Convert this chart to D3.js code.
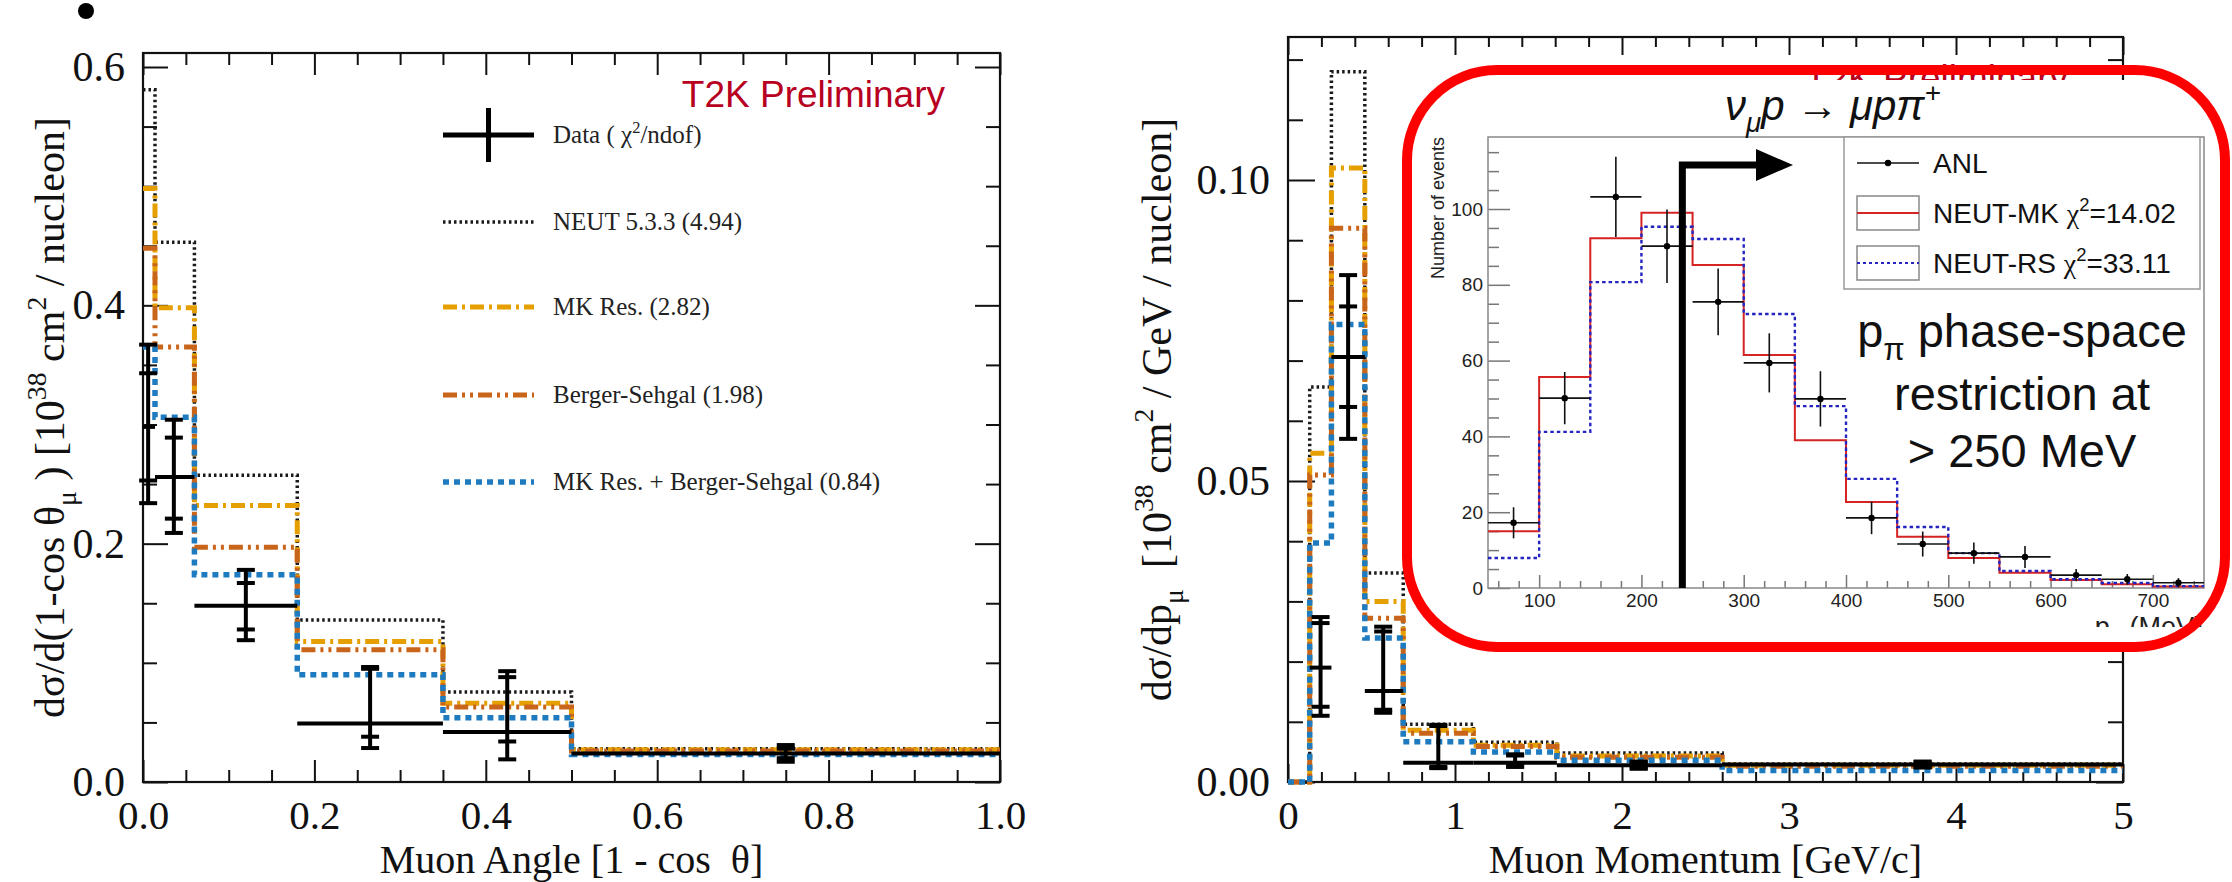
<!DOCTYPE html>
<html><head><meta charset="utf-8">
<script src="https://cdn.jsdelivr.net/npm/d3@7"></script>
<style>body{margin:0;background:#fff}svg{display:block}</style>
</head><body>
<svg id="c" width="2232" height="882"></svg>
<script>
// ===== Left panel: muon angle =====
const angleEdges=[0,0.014,0.06,0.18,0.35,0.5,1.0];
const angleNEUT=[0.581,0.453,0.2575,0.136,0.0755,0.028];
const angleMK=[0.498,0.398,0.232,0.118,0.066,0.027];
const angleBS=[0.448,0.365,0.197,0.111,0.063,0.026];
const angleMKBS=[0.365,0.306,0.174,0.090,0.054,0.023];
const angleDataX=[0.006,0.036,0.12,0.265,0.425,0.75];
const angleDataY=[0.298,0.256,0.148,0.049,0.042,0.024];
const angleInnerLo=[0.253,0.221,0.128,0.038,0.034,0.020];
const angleInnerHi=[0.343,0.289,0.167,0.095,0.088,0.028];
const angleOuterLo=[0.234,0.209,0.119,0.0285,0.019,0.017];
const angleOuterHi=[0.367,0.304,0.178,0.0965,0.093,0.031];
const angleXTicks=[0,0.2,0.4,0.6,0.8,1.0];
const angleXMinor=[0.05,0.1,0.15,0.25,0.3,0.35,0.45,0.5,0.55,0.65,0.7,0.75,0.85,0.9,0.95];
const angleYTicks=[0,0.2,0.4,0.6];
const angleYMinor=[0.05,0.1,0.15,0.25,0.3,0.35,0.45,0.5,0.55];
// ===== Right panel: muon momentum =====
const momEdges=[0,0.13,0.26,0.46,0.69,1.11,1.61,2.6,5.0];
const momNEUT=[0,0.0656,0.118,0.0347,0.0096,0.0066,0.0048,0.0030];
const momMK=[0,0.0546,0.102,0.030,0.0086,0.0061,0.0043,0.0028];
const momBS=[0,0.051,0.092,0.0272,0.0081,0.0059,0.0041,0.0026];
const momMKBS=[0,0.0397,0.076,0.0239,0.0067,0.0050,0.0036,0.0019];
const momDataX=[0.195,0.36,0.57,0.9,1.36,2.1,3.8];
const momDataY=[0.019,0.0706,0.0151,0.0032,0.0032,0.0028,0.0029];
const momInnerLo=[0.0125,0.0623,0.012,0.0025,0.0027,0.0023,0.0025];
const momInnerHi=[0.0264,0.079,0.025,0.0093,0.0044,0.0033,0.0033];
const momOuterLo=[0.011,0.057,0.0115,0.0023,0.0025,0.0022,0.0024];
const momOuterHi=[0.0274,0.0842,0.0258,0.0095,0.0046,0.0034,0.0034];
const momXTicks=[0,1,2,3,4,5];
const momXMinor=[0.2,0.4,0.6,0.8,1.2,1.4,1.6,1.8,2.2,2.4,2.6,2.8,3.2,3.4,3.6,3.8,4.2,4.4,4.6,4.8];
const momYTicks=[0,0.05,0.10];
const momYMinor=[0.01,0.02,0.03,0.04,0.06,0.07,0.08,0.09,0.11,0.12];
// ===== Inset: ANL pion momentum =====
const pionEdges=[50,100,150,200,250,300,350,400,450,500,550,600,650,700,750];
const neutMK=[15.0,55.7,92.3,99.0,85.2,61.5,39.0,22.7,13.5,7.9,4.0,2.1,1.0,0.4];
const neutRS=[7.9,41.2,80.7,95.3,92.1,72.3,48.0,28.8,16.1,9.2,4.5,2.3,1.3,0.5];
const anlX=[75,125,175,225,275,325,375,425,475,525,575,625,675,725];
const anlY=[17.2,50.1,103.2,90.2,75.5,59.4,49.9,18.5,11.6,9.2,8.2,3.4,2.3,1.4];
const anlErr=[4.1,6.9,10.6,9.7,8.8,7.8,7.3,4.3,3.3,2.8,2.9,1.6,1.4,1.2];
const insetXTicks=[100,200,300,400,500,600,700];
const insetXMinor=[60,80,120,140,160,180,220,240,260,280,320,340,360,380,420,440,460,480,520,540,560,580,620,640,660,680,720,740];
const insetYTicks=[0,20,40,60,80,100];
const insetYMinor=[5,10,15,25,30,35,45,50,55,65,70,75,85,90,95,105,110,115];
const cutArrow=240;

const modelNames=["NEUT 5.3.3 (4.94)","MK Res. (2.82)","Berger-Sehgal (1.98)","MK Res. + Berger-Sehgal (0.84)"];
const modelStyles=[
 {c:"#1a1a1a",w:3.5,d:"2.5,3"},
 {c:"#E69F00",w:5,d:"14,5,3,5"},
 {c:"#C9651A",w:5,d:"14,5,3,5,3,5"},
 {c:"#1F7BC0",w:5.5,d:"6,5"}
];

const svg=d3.select("#c");
const SERIF="'Liberation Serif','Times New Roman',serif";
const SANS="'Liberation Sans',Arial,sans-serif";

function rich(sel,parts,fs){
  let cur=0;
  parts.forEach(p=>{
    const target=p.sub?0.28*fs:(p.sup?-0.42*fs:0);
    const ts=sel.append("tspan").text(p.t).attr("dy",target-cur);
    if(p.sub||p.sup) ts.attr("font-size",fs*0.66);
    if(p.fam) ts.attr("font-family",p.fam);
    cur=target;
  });
}
function stepPath(x,y,edges,vals){
  const pts=vals.map((v,i)=>[edges[i],v]);
  pts.push([edges[edges.length-1],vals[vals.length-1]]);
  return d3.line().x(d=>x(d[0])).y(d=>y(d[1])).curve(d3.curveStepAfter)(pts);
}
function axis(g,gen,vals,len,fmt,pad,fs,fam,col){
  const a=gen.tickValues(vals).tickSizeInner(-len).tickSizeOuter(0).tickPadding(pad);
  if(fmt) a.tickFormat(fmt); else a.tickFormat(()=> "");
  g.call(a);
  g.select(".domain").remove();
  g.selectAll(".tick line").attr("stroke",col||"#111").attr("stroke-width",2);
  g.selectAll(".tick text").attr("font-family",fam).attr("font-size",fs).attr("fill",col==="#777"?"#222":"#111");
}

function panel(o){
  const x=d3.scaleLinear().domain(o.xd).range([o.x0,o.x1]);
  const y=d3.scaleLinear().domain(o.yd).range([o.y0,o.y1]);
  const g=svg.append("g");
  axis(g.append("g").attr("transform",`translate(0,${o.y0})`),d3.axisBottom(x),o.xMinor,o.xMinLen,null,0,40,SERIF);
  axis(g.append("g").attr("transform",`translate(0,${o.y0})`),d3.axisBottom(x),o.xTicks,o.xMajLen,o.xFmt,18,41,SERIF);
  axis(g.append("g").attr("transform",`translate(0,${o.top})`),d3.axisTop(x),o.xMinor,o.xMinLen,null,0,40,SERIF);
  axis(g.append("g").attr("transform",`translate(0,${o.top})`),d3.axisTop(x),o.xTicks,o.xMajLen,null,0,40,SERIF);
  axis(g.append("g").attr("transform",`translate(${o.x0},0)`),d3.axisLeft(y),o.yMinor,o.yMinLen,null,0,40,SERIF);
  axis(g.append("g").attr("transform",`translate(${o.x0},0)`),d3.axisLeft(y),o.yTicks,o.yMajLen,o.yFmt,18,42,SERIF);
  axis(g.append("g").attr("transform",`translate(${o.x1},0)`),d3.axisRight(y),o.yMinor,o.yMinLen,null,0,40,SERIF);
  axis(g.append("g").attr("transform",`translate(${o.x1},0)`),d3.axisRight(y),o.yTicks,o.yMajLen,null,0,40,SERIF);
  g.append("rect").attr("x",o.x0).attr("y",o.top).attr("width",o.x1-o.x0).attr("height",o.y0-o.top)
   .attr("fill","none").attr("stroke","#111").attr("stroke-width",2.2);
  o.models.forEach((m,i)=>{
    const s=modelStyles[i];
    g.append("path").attr("d",stepPath(x,y,o.edges,m)).attr("fill","none")
     .attr("stroke",s.c).attr("stroke-width",s.w).attr("stroke-dasharray",s.d);
  });
  const dg=g.append("g").attr("stroke","#000").attr("stroke-width",4).attr("fill","none");
  o.dx.forEach((xv,i)=>{
    const bi=o.dBin[i];
    dg.append("line").attr("x1",x(o.edges[bi])).attr("x2",x(o.edges[bi+1])).attr("y1",y(o.dy[i])).attr("y2",y(o.dy[i]));
    dg.append("line").attr("x1",x(xv)).attr("x2",x(xv)).attr("y1",y(o.oLo[i])).attr("y2",y(o.oHi[i]));
    [o.oLo[i],o.oHi[i],o.iLo[i],o.iHi[i]].forEach(v=>{
      dg.append("line").attr("x1",x(xv)-9).attr("x2",x(xv)+9).attr("y1",y(v)).attr("y2",y(v));
    });
  });
  g.append("text").attr("x",(o.x0+o.x1)/2).attr("y",873).attr("text-anchor","middle")
   .attr("font-family",SERIF).attr("font-size",40).style("white-space","pre").attr("fill","#111").text(o.xTitle);
  const yt=g.append("text").attr("transform",`translate(${o.ytX},${(o.top+o.y0)/2}) rotate(-90)`)
   .attr("text-anchor","middle").attr("font-family",SERIF).attr("font-size",42).attr("fill","#111").style("white-space","pre");
  rich(yt,o.yTitle,42);
  g.append("text").attr("x",o.t2kX).attr("y",o.t2kY).attr("text-anchor","end").attr("font-family",SANS)
   .attr("font-size",37).attr("fill","#B8001F").text("T2K Preliminary");
  return {x,y,g};
}

svg.append("circle").attr("cx",86).attr("cy",11).attr("r",8).attr("fill","#000");

panel({xd:[0,1],yd:[0,0.6],x0:143,x1:1000,y0:782,y1:67,top:53,
  xTicks:angleXTicks,xMinor:angleXMinor,yTicks:angleYTicks,yMinor:angleYMinor,
  xFmt:d3.format(".1f"),yFmt:d3.format(".1f"),xMajLen:22,xMinLen:12,yMajLen:25,yMinLen:14,
  edges:angleEdges,models:[angleNEUT,angleMK,angleBS,angleMKBS],
  dx:angleDataX,dy:angleDataY,dBin:[0,1,2,3,4,5],iLo:angleInnerLo,iHi:angleInnerHi,oLo:angleOuterLo,oHi:angleOuterHi,
  xTitle:"Muon Angle [1 - cos  θ]",ytX:64,
  yTitle:[{t:"dσ/d(1-cos θ"},{t:"μ",sub:1},{t:" ) [10"},{t:"38",sup:1},{t:" cm"},{t:"2",sup:1},{t:" / nucleon]"}],
  t2kX:945,t2kY:107});

panel({xd:[0,5],yd:[0,0.10],x0:1288,x1:2123,y0:782,y1:180,top:37,
  xTicks:momXTicks,xMinor:momXMinor,yTicks:momYTicks,yMinor:momYMinor,
  xFmt:d3.format("d"),yFmt:d3.format(".2f"),xMajLen:18,xMinLen:10,yMajLen:27,yMinLen:15,
  edges:momEdges,models:[momNEUT,momMK,momBS,momMKBS],
  dx:momDataX,dy:momDataY,dBin:[1,2,3,4,5,6,7],iLo:momInnerLo,iHi:momInnerHi,oLo:momOuterLo,oHi:momOuterHi,
  xTitle:"Muon Momentum [GeV/c]",ytX:1171,
  yTitle:[{t:"dσ/dp"},{t:"μ",sub:1},{t:"  [10"},{t:"38",sup:1},{t:" cm"},{t:"2",sup:1},{t:" / GeV / nucleon]"}],
  t2kX:2068,t2kY:91});

// left legend
const lg=svg.append("g");
const legX0=443,legX1=534,legRows=[135,222,307,395,482];
lg.append("line").attr("x1",legX0).attr("x2",legX1).attr("y1",legRows[0]).attr("y2",legRows[0]).attr("stroke","#000").attr("stroke-width",5);
lg.append("line").attr("x1",(legX0+legX1)/2).attr("x2",(legX0+legX1)/2).attr("y1",legRows[0]-27).attr("y2",legRows[0]+27).attr("stroke","#000").attr("stroke-width",5);
const dt=lg.append("text").attr("x",553).attr("y",legRows[0]+8).attr("font-family",SERIF).attr("font-size",25).attr("fill","#222");
rich(dt,[{t:"Data ( χ"},{t:"2",sup:1},{t:"/ndof)"}],25);
modelNames.forEach((n,i)=>{
  const s=modelStyles[i],yy=legRows[i+1];
  lg.append("line").attr("x1",legX0).attr("x2",legX1).attr("y1",yy).attr("y2",yy)
    .attr("stroke",s.c).attr("stroke-width",s.w).attr("stroke-dasharray",s.d);
  lg.append("text").attr("x",553).attr("y",yy+8).attr("font-family",SERIF).attr("font-size",25).attr("fill","#222").text(n);
});

// ===== Inset =====
const ig=svg.append("g");
ig.append("rect").attr("x",1414).attr("y",80).attr("width",805).attr("height",562).attr("fill","#fff");
const xI=d3.scaleLinear().domain([50,750]).range([1488,2204]);
const yI=d3.scaleLinear().domain([0,119]).range([588,137]);
const GR="#777";
axis(ig.append("g").attr("transform",`translate(0,588)`),d3.axisBottom(xI),insetXMinor,7,null,0,19,SANS,GR);
axis(ig.append("g").attr("transform",`translate(0,588)`),d3.axisBottom(xI),insetXTicks,13,d3.format("d"),6,19,SANS,GR);
axis(ig.append("g").attr("transform",`translate(1488,0)`),d3.axisLeft(yI),insetYMinor,11,null,0,19,SANS,GR);
axis(ig.append("g").attr("transform",`translate(1488,0)`),d3.axisLeft(yI),insetYTicks,22,d3.format("d"),5,19,SANS,GR);
ig.selectAll(".tick line").attr("stroke-width",1.5);
ig.append("rect").attr("x",1488).attr("y",137).attr("width",2204-1488).attr("height",588-137)
  .attr("fill","none").attr("stroke","#888").attr("stroke-width",1.5);
ig.append("path").attr("d",stepPath(xI,yI,pionEdges,neutMK)).attr("fill","none").attr("stroke","#D42424").attr("stroke-width",2);
ig.append("path").attr("d",stepPath(xI,yI,pionEdges,neutRS)).attr("fill","none").attr("stroke","#2424C0").attr("stroke-width",2.4).attr("stroke-dasharray","3.5,3");
const ag=ig.append("g").attr("stroke","#111").attr("stroke-width",1.6);
anlX.forEach((xv,i)=>{
  ag.append("line").attr("x1",xI(pionEdges[i])).attr("x2",xI(pionEdges[i+1])).attr("y1",yI(anlY[i])).attr("y2",yI(anlY[i]));
  ag.append("line").attr("x1",xI(xv)).attr("x2",xI(xv)).attr("y1",yI(anlY[i]-anlErr[i])).attr("y2",yI(anlY[i]+anlErr[i]));
  ag.append("circle").attr("cx",xI(xv)).attr("cy",yI(anlY[i])).attr("r",3.2).attr("fill","#000").attr("stroke","none");
});
ig.append("path").attr("d",`M${xI(cutArrow)},${yI(0)}V165H1760`).attr("fill","none").attr("stroke","#000").attr("stroke-width",7);
ig.append("path").attr("d","M1756,149L1793,165L1756,181Z").attr("fill","#000");
ig.append("text").attr("transform","translate(1444,137) rotate(-90)").attr("text-anchor","end")
  .attr("font-family",SANS).attr("font-size",18).attr("fill","#222").text("Number of events");
svg.append("clipPath").attr("id","cutT").append("rect").attr("x",1414).attr("y",80).attr("width",805).attr("height",547);
const pt=ig.append("text").attr("x",2203).attr("y",636).attr("text-anchor","end").attr("clip-path","url(#cutT)")
  .attr("font-family",SANS).attr("font-size",27).attr("fill","#222");
rich(pt,[{t:"p"},{t:"π",sub:1},{t:" (MeV)"}],27);
const it=ig.append("text").attr("x",1725).attr("y",120).attr("font-family",SANS).attr("font-size",42).attr("font-style","italic").attr("fill","#111");
rich(it,[{t:"ν"},{t:"μ",sub:1},{t:"p → μpπ"},{t:"+",sup:1}],42);
ig.append("rect").attr("x",1844).attr("y",137).attr("width",356).attr("height",152).attr("fill","#fff").attr("stroke","#999").attr("stroke-width",1.5);
const iRows=[163,213,263];
ig.append("line").attr("x1",1857).attr("x2",1919).attr("y1",iRows[0]).attr("y2",iRows[0]).attr("stroke","#111").attr("stroke-width",1.6);
ig.append("circle").attr("cx",1888).attr("cy",iRows[0]).attr("r",3.2).attr("fill","#000");
[1,2].forEach(k=>{
  ig.append("rect").attr("x",1857).attr("y",iRows[k]-17).attr("width",62).attr("height",34).attr("fill","none").attr("stroke","#888").attr("stroke-width",1.5);
});
ig.append("line").attr("x1",1857).attr("x2",1919).attr("y1",iRows[1]).attr("y2",iRows[1]).attr("stroke","#D42424").attr("stroke-width",2);
ig.append("line").attr("x1",1857).attr("x2",1919).attr("y1",iRows[2]).attr("y2",iRows[2]).attr("stroke","#2424C0").attr("stroke-width",2).attr("stroke-dasharray","3,3");
const legTxt=[[{t:"ANL"}],[{t:"NEUT-MK "},{t:"χ",fam:SERIF},{t:"2",sup:1},{t:"=14.02"}],[{t:"NEUT-RS "},{t:"χ",fam:SERIF},{t:"2",sup:1},{t:"=33.11"}]];
legTxt.forEach((p,k)=>{
  const t=ig.append("text").attr("x",1933).attr("y",iRows[k]+10).attr("font-family",SANS).attr("font-size",28).attr("fill","#111");
  rich(t,p,28);
});
const b1=ig.append("text").attr("x",2022).attr("y",347).attr("text-anchor","middle").attr("font-family",SANS).attr("font-size",47).attr("fill","#111");
rich(b1,[{t:"p"},{t:"π",sub:1},{t:" phase-space"}],47);
ig.append("text").attr("x",2022).attr("y",410).attr("text-anchor","middle").attr("font-family",SANS).attr("font-size",47).attr("fill","#111").text("restriction at");
ig.append("text").attr("x",2022).attr("y",467).attr("text-anchor","middle").attr("font-family",SANS).attr("font-size",47).attr("fill","#111").text("> 250 MeV");
svg.append("rect").attr("x",1407).attr("y",70).attr("width",818).attr("height",577).attr("rx",90).attr("ry",90)
  .attr("fill","none").attr("stroke","#FF0000").attr("stroke-width",10);
</script></body></html>
